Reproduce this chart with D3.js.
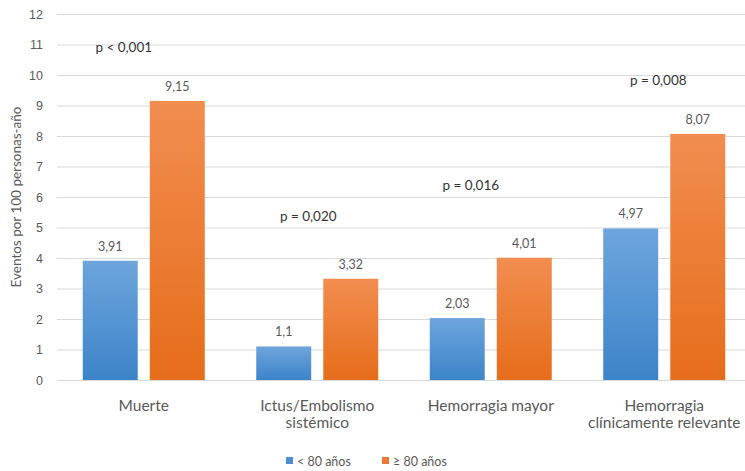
<!DOCTYPE html>
<html>
<head>
<meta charset="utf-8">
<script src="https://cdn.jsdelivr.net/npm/d3@7"></script>
<style>
  html, body { margin: 0; padding: 0; background: #fff; }
  svg { display: block; font-family: Lato, "Open Sans", "Liberation Sans", sans-serif; }
</style>
</head>
<body>
<svg id="chart" width="745" height="471"></svg>
<script>
// Event rates per 100 person-years, by age group
const categories = [
  ["Muerte"],
  ["Ictus/Embolismo", "sistémico"],
  ["Hemorragia mayor"],
  ["Hemorragia", "clínicamente relevante"]
];
const seriesNames = ["< 80 años", "≥ 80 años"];
const under80 = [3.91, 1.1, 2.03, 4.97];
const over80 = [9.15, 3.32, 4.01, 8.07];
const valueLabels = [["3,91", "9,15"], ["1,1", "3,32"], ["2,03", "4,01"], ["4,97", "8,07"]];
const pValues = ["p < 0,001", "p = 0,020", "p = 0,016", "p = 0,008"];
const pLevels = [10.92, 5.37, 6.4, 9.83];
const yTicks = d3.range(0, 13);

const svg = d3.select("#chart");
const margin = { left: 57, top: 14, bottom: 91 };
const plotRight = 751;
const height = 471;

const x = d3.scaleBand()
  .domain(d3.range(categories.length))
  .range([margin.left, plotRight])
  .paddingInner(0)
  .paddingOuter(0);
const inner = d3.scaleBand()
  .domain([0, 1])
  .range([0, x.bandwidth()])
  .paddingInner(0.18)
  .paddingOuter(0.384);
const y = d3.scaleLinear().domain([0, 12]).range([height - margin.bottom, margin.top]);

// gradients
const defs = svg.append("defs");
const grads = [
  { id: "gBlue", top: "#6da5dc", bottom: "#3c84c9" },
  { id: "gOrange", top: "#f18d50", bottom: "#e66d1a" }
];
grads.forEach(g => {
  const lg = defs.append("linearGradient").attr("id", g.id)
    .attr("x1", 0).attr("y1", 0).attr("x2", 0).attr("y2", 1);
  lg.append("stop").attr("offset", "0%").attr("stop-color", g.top);
  lg.append("stop").attr("offset", "100%").attr("stop-color", g.bottom);
});

// gridlines + y axis
const yAxis = d3.axisLeft(y).tickValues(yTicks).tickSize(-(plotRight - margin.left)).tickPadding(14);
const gy = svg.append("g").attr("transform", `translate(${margin.left},0)`).call(yAxis);
gy.select(".domain").remove();
gy.selectAll(".tick line").attr("stroke", "#d9d9d9").attr("stroke-width", 1);
gy.selectAll(".tick text").attr("fill", "#595959").style("font-size", "12.5px");

// y title
svg.append("text")
  .attr("transform", `translate(21,${y(6)}) rotate(-90)`)
  .attr("text-anchor", "middle")
  .attr("fill", "#595959")
  .style("font-size", "13.5px")
  .text("Eventos por 100 personas-año");

// bars
const series = [under80, over80];
const fills = ["url(#gBlue)", "url(#gOrange)"];
const pShift = [-20, -9, -20, -6];
categories.forEach((c, i) => {
  const g = svg.append("g").attr("transform", `translate(${x(i)},0)`);
  series.forEach((s, k) => {
    g.append("rect")
      .attr("x", inner(k))
      .attr("width", inner.bandwidth())
      .attr("y", y(s[i]))
      .attr("height", y(0) - y(s[i]))
      .attr("fill", fills[k]);
    g.append("text")
      .attr("x", inner(k) + inner.bandwidth() / 2)
      .attr("y", y(s[i]) - 10)
      .attr("text-anchor", "middle")
      .attr("fill", "#595959")
      .style("font-size", "12.5px")
      .text(valueLabels[i][k]);
  });
  // p value annotation
  g.append("text")
    .attr("x", x.bandwidth() / 2 + pShift[i])
    .attr("y", y(pLevels[i]) + 5)
    .attr("text-anchor", "middle")
    .attr("fill", "#333333")
    .style("font-size", "13.5px")
    .text(pValues[i]);
  // category label
  const t = g.append("text")
    .attr("text-anchor", "middle")
    .attr("fill", "#595959")
    .style("font-size", "15.5px");
  c.forEach((line, j) => {
    t.append("tspan")
      .attr("x", x.bandwidth() / 2)
      .attr("y", y(0) + 31 + j * 17)
      .text(line);
  });
});

// legend
const legend = svg.append("g").attr("transform", "translate(286,461)");
const legendX = [0, 96];
seriesNames.forEach((n, k) => {
  legend.append("rect").attr("x", legendX[k]).attr("y", -4).attr("width", 7).attr("height", 7)
    .attr("fill", k === 0 ? "#4a8fd1" : "#ec7a34");
  legend.append("text").attr("x", legendX[k] + 11).attr("y", 4.5)
    .attr("fill", "#595959").style("font-size", "12.5px").text(n);
});
</script>
</body>
</html>
